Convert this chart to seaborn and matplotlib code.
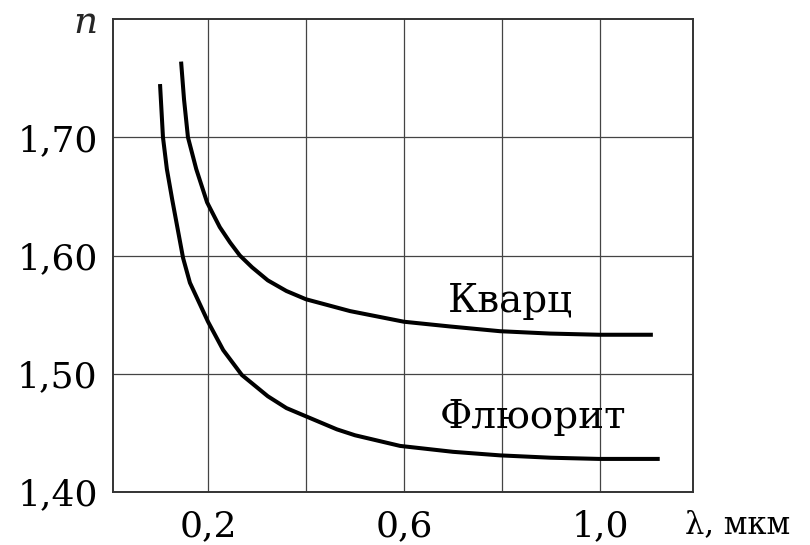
import numpy as np
import pandas as pd
import matplotlib
matplotlib.use("Agg")
import matplotlib.pyplot as plt
import seaborn as sns

# Values (wavelength in um, refractive index n)
quartz_lam = [0.145, 0.151, 0.159, 0.176, 0.198, 0.224, 0.245, 0.265, 0.290, 0.322, 0.360,
              0.400, 0.490, 0.600, 0.694, 0.796, 0.898, 0.998, 1.108]
quartz_n = [1.764, 1.732, 1.700, 1.673, 1.645, 1.624, 1.611, 1.600, 1.590, 1.579, 1.570,
            1.563, 1.553, 1.544, 1.540, 1.536, 1.534, 1.533, 1.533]

fluorite_lam = [0.102, 0.108, 0.116, 0.127, 0.149, 0.163, 0.200, 0.231, 0.269, 0.322, 0.360,
                0.400, 0.463, 0.500, 0.592, 0.700, 0.796, 0.900, 0.998, 1.122]
fluorite_n = [1.745, 1.700, 1.673, 1.647, 1.598, 1.577, 1.544, 1.520, 1.499, 1.481, 1.471,
              1.464, 1.453, 1.448, 1.439, 1.434, 1.431, 1.429, 1.428, 1.428]

x_ticks = [0.2, 0.4, 0.6, 0.8, 1.0]
x_labels = ["0,2", "", "0,6", "", "1,0"]
y_ticks = [1.40, 1.50, 1.60, 1.70]
y_labels = ["1,40", "1,50", "1,60", "1,70"]

df = pd.concat([
    pd.DataFrame({"lam": quartz_lam, "n": quartz_n, "mat": "Кварц"}),
    pd.DataFrame({"lam": fluorite_lam, "n": fluorite_n, "mat": "Флюорит"}),
])

sns.set_style("white")
plt.rcParams["font.family"] = ["DejaVu Serif"]

fig = plt.figure(figsize=(8.1, 5.45), dpi=100)
ax = fig.add_axes([0.1395, 0.0972, 0.7161, 0.8679])

sns.lineplot(data=df, x="lam", y="n", units="mat", estimator=None,
             color="black", linewidth=2.9, sort=False, legend=False, ax=ax)
for line in ax.get_lines():
    line.set_solid_joinstyle("round")
    line.set_solid_capstyle("butt")

ax.set_xlim(0.006, 1.19)
ax.set_ylim(1.40, 1.80)
ax.set_xticks(x_ticks)
ax.set_xticklabels(x_labels)
ax.set_yticks(y_ticks)
ax.set_yticklabels(y_labels)
ax.tick_params(axis="both", length=0, labelsize=26, colors="black")
ax.tick_params(axis="x", pad=12)
ax.tick_params(axis="y", pad=11)
ax.grid(True, color="#444444", linewidth=0.9)
ax.set_axisbelow(True)
for s in ax.spines.values():
    s.set_color("#333333")
    s.set_linewidth(1.4)
ax.set_xlabel("")
ax.set_ylabel("")

ax.text(0.690, 1.5525, "Кварц", fontsize=28, color="black", ha="left", va="baseline")
ax.text(0.672, 1.454, "Флюорит", fontsize=28, color="black", ha="left", va="baseline")

fig.text(0.846, 0.022, "λ, мкм", fontsize=22, color="black", ha="left", va="baseline")
fig.text(0.106, 0.939, "n", fontsize=27, style="italic", ha="center", va="baseline")

fig.savefig("out.png", dpi=100)
